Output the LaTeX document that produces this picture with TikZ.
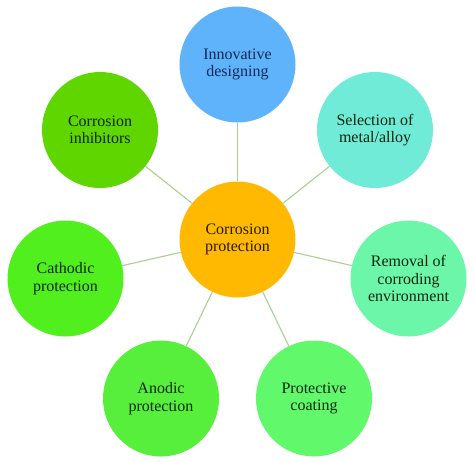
\documentclass[tikz,border=0pt]{standalone}
\usepackage{fontspec}
\setmainfont{Liberation Serif}
\definecolor{cblue}{HTML}{5FB3FA}
\definecolor{cinhib}{HTML}{5FD600}
\definecolor{caqua}{HTML}{6FEBD8}
\definecolor{corange}{HTML}{FFB900}
\definecolor{ccath}{HTML}{52EF1E}
\definecolor{cremov}{HTML}{6CF6AA}
\definecolor{canod}{HTML}{58EF3C}
\definecolor{cprot}{HTML}{62F86C}
\definecolor{linec}{HTML}{A9D18E}
\definecolor{tnavy}{HTML}{14285A}
\definecolor{tgreen}{HTML}{0A260C}
\definecolor{tbrown}{HTML}{261C00}
\tikzset{
  bubble/.style={circle, minimum size=116pt, inner sep=0pt, align=center,
    font=\fontsize{16}{17.5}\selectfont, text=tgreen},
  link/.style={draw=linec, line width=1.1pt}
}
\begin{document}
\begin{tikzpicture}[x=1pt,y=-1pt]
\useasboundingbox (0,0) rectangle (474,461);
\fill[white] (0,0) rectangle (474,461);
\node[bubble, fill=corange, text=tbrown] (c) at (237.5,239.5) {Corrosion\\protection};
\node[bubble, fill=cblue, text=tnavy] (n1) at (237.5,64.5) {Innovative\\designing};
\node[bubble, fill=caqua] (n2) at (375,130) {Selection of\\metal/alloy};
\node[bubble, fill=cremov] (n3) at (408.5,278.5) {Removal of\\corroding\\environment};
\node[bubble, fill=cprot] (n4) at (314,398.5) {Protective\\coating};
\node[bubble, fill=canod] (n5) at (161,398.5) {Anodic\\protection};
\node[bubble, fill=ccath] (n6) at (65.5,278.5) {Cathodic\\protection};
\node[bubble, fill=cinhib] (n7) at (100,130) {Corrosion\\inhibitors};
\foreach \n in {n1,n2,n3,n4,n5,n6,n7} \draw[link] (c) -- (\n);
\end{tikzpicture}
\end{document}
